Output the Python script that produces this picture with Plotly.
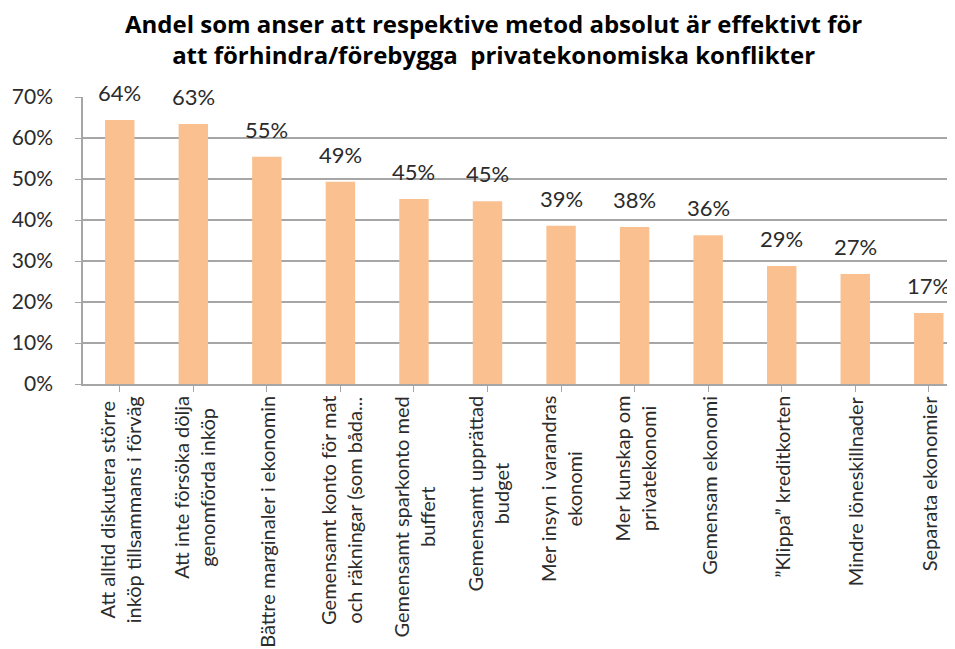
import plotly.graph_objects as go

categories = [
    "Att alltid diskutera större<br>inköp tillsammans i förväg",
    "Att inte försöka dölja<br>genomförda inköp",
    "Bättre marginaler i ekonomin",
    "Gemensamt konto för mat<br>och räkningar (som båda...",
    "Gemensamt sparkonto med<br>buffert",
    "Gemensamt upprättad<br>budget",
    "Mer insyn i varandras<br>ekonomi",
    "Mer kunskap om<br>privatekonomi",
    "Gemensam ekonomi",
    "”Klippa” kreditkorten",
    "Mindre löneskillnader",
    "Separata ekonomier",
]
values = [0.644, 0.634, 0.554, 0.493, 0.451, 0.446, 0.386, 0.383, 0.363, 0.288, 0.268, 0.173]
y_ticks = [0, 0.1, 0.2, 0.3, 0.4, 0.5, 0.6, 0.7]
title_text = ("Andel som anser att respektive metod absolut är effektivt för<br>"
              "att förhindra/förebygga  privatekonomiska konflikter")

FONT = "Lato"
TXT = "#2b2b2b"
GRID = "#A6A6A6"

# page body has an 8px margin in the browser; layout compensates for it
L, T, B = 75, 89, 273
PLOT_W, PLOT_H = 955 - L, 649 - T - B

idx = list(range(len(categories)))

fig = go.Figure()
fig.add_trace(go.Bar(
    x=idx, y=values, width=0.4,
    marker=dict(color="#FAC090", line=dict(width=0)),
    hoverinfo="skip",
))

annotations = []
for i, v in zip(idx, values):
    annotations.append(dict(
        x=i, y=v, xref="x", yref="y", text=f"{round(v*100):d}%",
        showarrow=False, yanchor="bottom", xanchor="center", yshift=12,
        font=dict(family=FONT, size=22, color=TXT),
    ))
for i, c in zip(idx, categories):
    annotations.append(dict(
        x=i, y=0, xref="x", yref="y", text=c, textangle=-90,
        showarrow=False, yanchor="top", xanchor="center", yshift=-10,
        align="center",
        font=dict(family=FONT, size=20, color=TXT),
    ))
annotations.append(dict(
    x=(485 - L) / PLOT_W, y=(649 - B - 31) / PLOT_H, xref="paper", yref="paper",
    text=title_text, showarrow=False, xanchor="center", yanchor="middle",
    align="center",
    font=dict(family="Open Sans", size=24, color="#000000", weight="bold"),
))

fig.update_layout(
    width=955, height=649,
    margin=dict(l=L, r=0, t=T, b=B, pad=0, autoexpand=False),
    paper_bgcolor="white", plot_bgcolor="white",
    showlegend=False,
    annotations=annotations,
    xaxis=dict(
        range=[-0.5, 11.465], tickmode="array", tickvals=idx,
        ticktext=["" for _ in idx], showticklabels=False,
        tickson="boundaries", ticks="outside", ticklen=6, tickcolor=GRID,
        showline=True, linecolor=GRID, linewidth=1.5, showgrid=False,
        zeroline=False,
    ),
    yaxis=dict(
        range=[0, 0.7], tickmode="array", tickvals=y_ticks,
        tickformat=".0%", ticks="outside", ticklen=6, tickcolor=GRID,
        showline=True, linecolor=GRID, linewidth=1.5,
        showgrid=True, gridcolor=GRID, gridwidth=1.5, zeroline=False,
        ticklabelstandoff=18,
        tickfont=dict(family=FONT, size=21, color=TXT),
    ),
)

fig.write_html("out.html")
